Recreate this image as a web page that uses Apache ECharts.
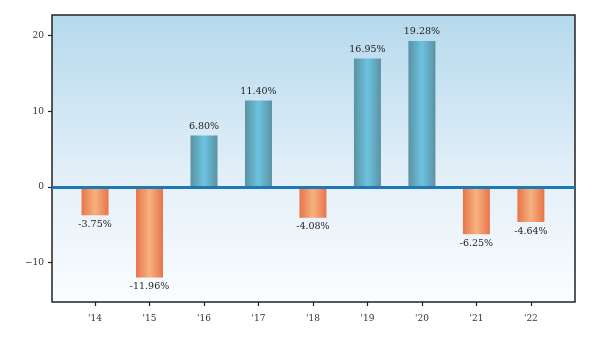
<!DOCTYPE html>
<html><head><meta charset="utf-8">
<script src="https://cdn.jsdelivr.net/npm/echarts@6/dist/echarts.min.js"></script>
<style>html,body{margin:0;padding:0;background:#fff}#c{width:589px;height:342px}</style>
</head><body><div id="c"></div>
<script>
var categories = ["'14","'15","'16","'17","'18","'19","'20","'21","'22"];
var values = [-3.75, -11.96, 6.80, 11.40, -4.08, 16.95, 19.28, -6.25, -4.64];
var yTicks = [-10, 0, 10, 20];

var FONT = 'DejaVu Serif';
function grad(edge, mid){
  return {type:'linear', x:0, y:0, x2:1, y2:0, colorStops:[
    {offset:0, color:edge},{offset:0.5, color:mid},{offset:1, color:edge}]};
}
var posColor = grad('#5b92a2', '#6cc3e0');
var negColor = grad('#e8744a', '#f6b280');

var data = values.map(function(v, i){
  return {
    value:[i, v],
    itemStyle:{color: v >= 0 ? posColor : negColor},
    label:{position: v >= 0 ? 'top' : 'bottom'}
  };
});

var chart = echarts.init(document.getElementById('c'), null, {renderer:'canvas'});
chart.setOption({
  animation:false,
  grid:{left:52, right:14, top:15, bottom:40, show:true,
    borderColor:'#222', borderWidth:1.5,
    backgroundColor:{type:'linear', x:0, y:0, x2:0, y2:1, colorStops:[
      {offset:0, color:'#b5d9ed'},{offset:0.55, color:'#e2eff8'},{offset:1, color:'#fbfdff'}]}},
  xAxis:{type:'value', min:-0.79, max:8.81,
    splitLine:{show:false},
    axisLine:{show:false, onZero:false},
    axisTick:{show:true, length:4, inside:false, customValues:categories.map(function(c,i){return i;}),
      lineStyle:{color:'#222', width:1.2}},
    axisLabel:{customValues:categories.map(function(c,i){return i;}),
      formatter:function(v){return categories[Math.round(v)];},
      margin:12, color:'#333', fontFamily:FONT, fontSize:9}
  },
  yAxis:{type:'value', min:-15.2, max:22.7,
    splitLine:{show:false},
    axisLine:{show:false, onZero:false},
    axisTick:{show:true, length:4, customValues:yTicks, lineStyle:{color:'#222', width:1.2}},
    axisLabel:{customValues:yTicks,
      formatter:function(v){return v < 0 ? '\u2212' + Math.abs(v) : String(v);},
      margin:8, color:'#333', fontFamily:FONT, fontSize:9}
  },
  series:[{
    type:'bar', barWidth:27, data:data,
    label:{show:true, distance:4, color:'#222', fontFamily:FONT, fontSize:9.5,
      formatter:function(p){return p.value[1].toFixed(2) + '%';}},
    markLine:{silent:true, symbol:'none', label:{show:false},
      lineStyle:{color:'#1f77b4', width:3, type:'solid'},
      data:[{yAxis:0}]}
  }]
});
</script></body></html>
